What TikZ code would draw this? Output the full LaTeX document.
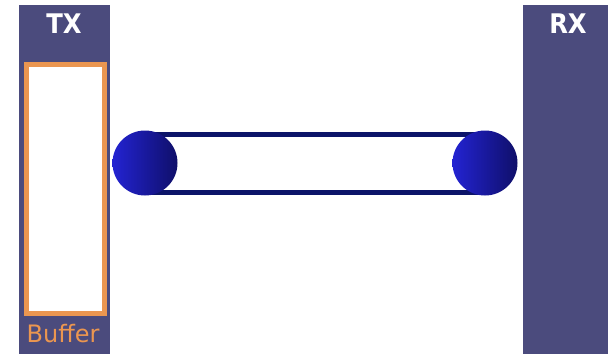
\documentclass[tikz,border=0pt]{standalone}
\usepackage{fontspec}
\setmainfont{DejaVu Sans}
\definecolor{panel}{RGB}{75,75,125}
\definecolor{bufferorange}{RGB}{235,150,80}
\definecolor{belt}{RGB}{12,20,105}
\definecolor{pulleylight}{RGB}{35,35,210}
\definecolor{pulleydark}{RGB}{15,15,105}

\begin{document}
\begin{tikzpicture}[x=1pt, y=-1pt,
    tag/.style={white, anchor=base, xscale=0.9, transform shape, font=\fontsize{27}{27}\selectfont\bfseries},
    pulley/.style={left color=pulleylight, right color=pulleydark}]
        \useasboundingbox[fill=white] (0,0) rectangle (608,354);

        % Side panels
        \fill[panel] (19,5) rectangle (110,354);
        \fill[panel] (523,5) rectangle (608,354);

        % Buffer
        \draw[bufferorange, line width=5pt, fill=white] (26.5,64.5) rectangle (104.5,313.5);

        % Labels
        \node[tag] (tx) at (64,33) {TX};
        \node[tag] (rx) at (568,33) {RX};
        \node[bufferorange, anchor=base, font=\fontsize{24}{24}\selectfont] (buffer) at (63,342) {Buffer};

        % Belt
        \coordinate (p1) at (145,163);
        \coordinate (p2) at (485,163);
        \draw[belt, line width=5pt] ([yshift=29pt]p1) -- ([yshift=29pt]p2);
        \draw[belt, line width=5pt] ([yshift=-29pt]p1) -- ([yshift=-29pt]p2);

        % Pulleys
        \shade[pulley] (p1) circle (32.5);
        \shade[pulley] (p2) circle (32.5);
    \end{tikzpicture}
\end{document}
